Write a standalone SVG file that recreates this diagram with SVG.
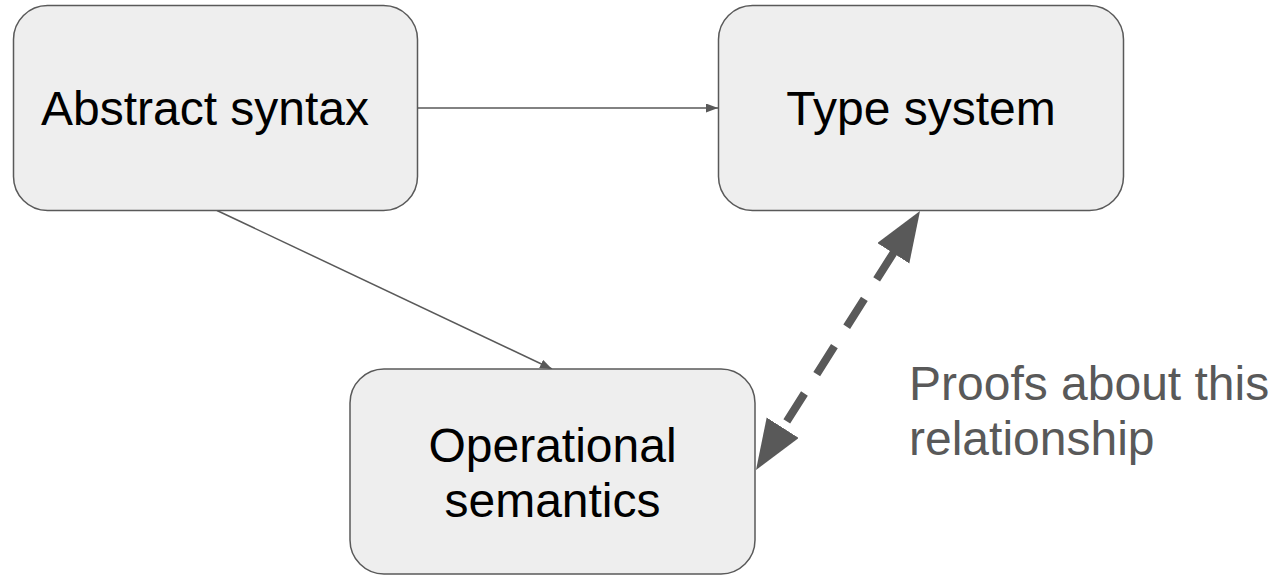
<svg xmlns="http://www.w3.org/2000/svg" width="1274" height="578" viewBox="0 0 1274 578">
<style>
.box{fill:#eeeeee;stroke:#595959;stroke-width:1.5}
.lbl{font-family:"Liberation Sans",Arial,sans-serif;font-size:48px;fill:#000000;text-anchor:middle}
.note{font-family:"Liberation Sans",Arial,sans-serif;font-size:48px;fill:#595959}
.thin{stroke:#595959;stroke-width:1.5;fill:none}
.dash{stroke:#595959;stroke-width:8;fill:none;stroke-dasharray:33 23;stroke-dashoffset:48}
</style>
<defs>
<marker id="sm" markerUnits="userSpaceOnUse" markerWidth="14" markerHeight="10" refX="12" refY="4.5" orient="auto"><path d="M0,0 L12,4.5 L0,9 z" fill="#595959"/></marker>
<marker id="big" markerUnits="userSpaceOnUse" markerWidth="52" markerHeight="40" refX="10" refY="19" orient="auto-start-reverse"><path d="M0,0 L50,19 L0,38 z" fill="#595959"/></marker>
</defs>
<g id="connectors">
<line class="thin" x1="418" y1="108" x2="718" y2="108" marker-end="url(#sm)"/>
<line class="thin" x1="217" y1="210.5" x2="552" y2="369" marker-end="url(#sm)"/>
<line class="dash" x1="898.6" y1="244.8" x2="777.4" y2="436.2" marker-start="url(#big)" marker-end="url(#big)"/>
</g>
<g id="abstract-syntax">
<rect class="box" x="13.5" y="5.5" width="404" height="205" rx="34"/>
<text class="lbl" x="205" y="125">Abstract syntax</text>
</g>
<g id="type-system">
<rect class="box" x="718.5" y="5.5" width="405" height="205" rx="34"/>
<text class="lbl" x="921" y="125">Type system</text>
</g>
<g id="operational-semantics">
<rect class="box" x="350" y="369" width="405" height="205" rx="34"/>
<text class="lbl" x="552.5" y="462">Operational</text>
<text class="lbl" x="552.5" y="517">semantics</text>
</g>
<g id="proofs-label">
<text class="note" x="909" y="400">Proofs about this</text>
<text class="note" x="909" y="455">relationship</text>
</g>
</svg>
